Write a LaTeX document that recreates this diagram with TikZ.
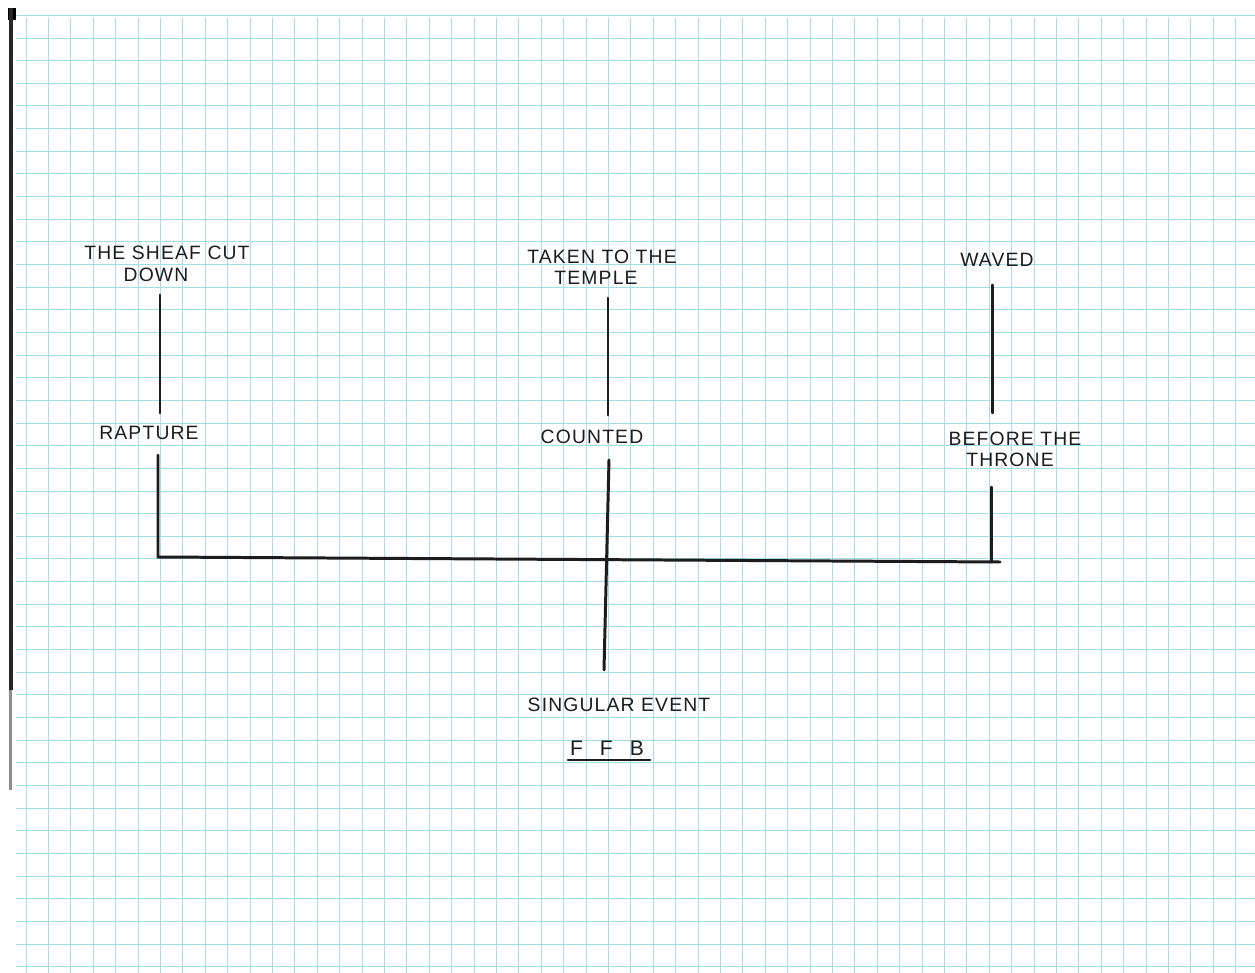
\documentclass[tikz,border=0pt]{standalone}
\usepackage{fontspec}
\setmainfont{Liberation Sans}
\definecolor{gridcyan}{RGB}{165,220,230}
\definecolor{ink}{RGB}{28,28,28}
\tikzset{
  penline/.style={draw=ink, line width=1.7pt, line cap=round},
  gridline/.style={draw=gridcyan, line width=0.55pt},
  caption/.style={font=\fontsize{11}{13}\selectfont\addfontfeature{LetterSpace=6},
                  text=ink, inner sep=0pt}
}

\begin{document}
\begin{tikzpicture}[x=0.02cm, y=-0.02cm]
  \useasboundingbox (0,0) rectangle (1255,973);
  \fill[white] (0,0) rectangle (1255,973);
  % The squared paper, with the dark edge of the scan on the left.
  \foreach \i in {0,...,55} {
    \draw[gridline] ({26+22.4*\i},18) -- ({26+22.4*\i},973);
  }
  \foreach \j in {-1,...,41} {
    \draw[gridline] (16,{38+22.65*\j}) -- (1255,{38+22.65*\j});
  }
  \fill[black] (8,8) rectangle (16,20);
  \fill[black!85] (9,8) rectangle (13,690);
  \fill[black!45] (9,690) rectangle (12,790);

  % Labels, top row then middle row.
  \node[caption] (sheaf)  at (167,253) {THE SHEAF CUT};
  \node[caption] (down)   at (156,275) {DOWN};
  \node[caption] (taken)  at (602,257) {TAKEN TO THE};
  \node[caption] (temple) at (596,278) {TEMPLE};
  \node[caption] (waved)  at (997,260) {WAVED};
  \node[caption] (rapture) at (149,433) {RAPTURE};
  \node[caption] (counted) at (592,437) {COUNTED};
  \node[caption] (before)  at (1015,439) {BEFORE THE};
  \node[caption] (throne)  at (1010,460) {THRONE};
  \node[caption] (event)   at (619,705) {SINGULAR EVENT};
  \node[caption, font=\fontsize{12}{14}\selectfont] (ffb) at (607,748)
    {F\hspace{0.34cm}F\hspace{0.34cm}B};

  % End points of the strokes.
  \coordinate (la) at (160,295);
  \coordinate (lb) at (160,413);
  \coordinate (lc) at (158,455);
  \coordinate (lcorner) at (158,557);
  \coordinate (ma) at (608,298);
  \coordinate (mb) at (608,415);
  \coordinate (mc) at (609,460);
  \coordinate (mbottom) at (604,670);
  \coordinate (ra) at (992,285);
  \coordinate (rb) at (992,413);
  \coordinate (rc) at (991,487);
  \coordinate (rcorner) at (991,562);
  \coordinate (rend) at (1000,562);
  \coordinate (ula) at (568,760);
  \coordinate (ulb) at (650,760);

  \draw[penline] (la) -- (lb);
  \draw[penline] (lc) -- (lcorner) -- (rend);
  \draw[penline] (ma) -- (mb);
  \draw[penline] (mc) -- (mbottom);
  \draw[penline] (ra) -- (rb);
  \draw[penline] (rc) -- (rcorner);
  \draw[penline] (ula) -- (ulb);
\end{tikzpicture}
\end{document}
